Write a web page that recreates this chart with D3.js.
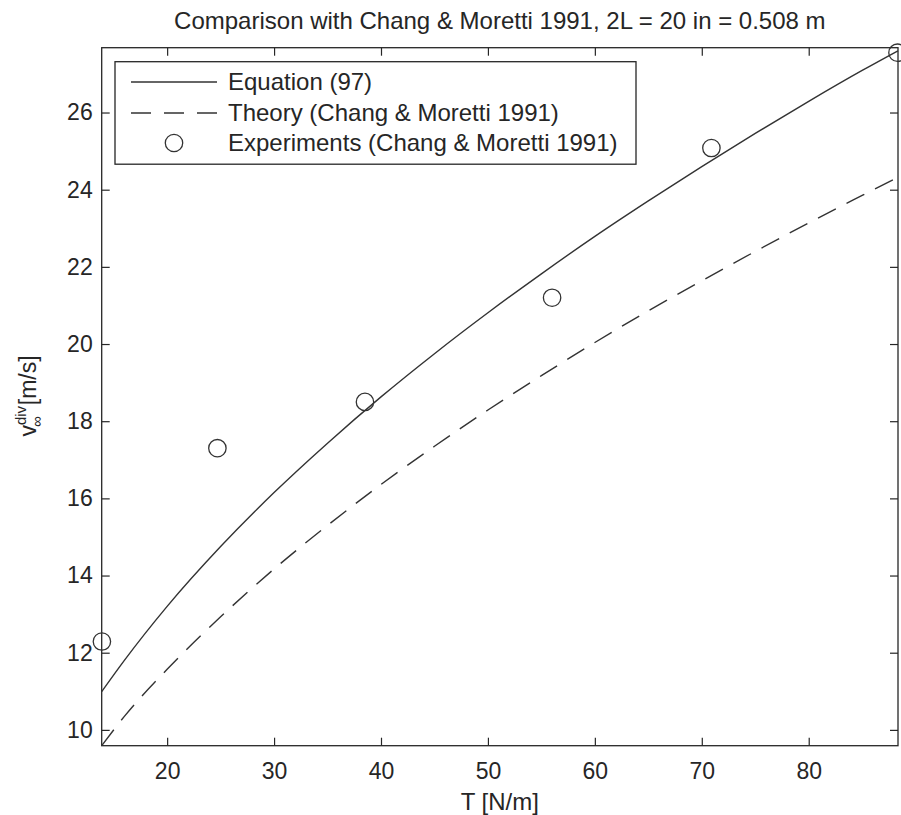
<!DOCTYPE html>
<meta charset="utf-8">
<style>
  body { margin: 0; background: #fff; }
  text { font-family: "Liberation Sans", Arial, sans-serif; fill: #262626; }
</style>
<body>
<svg width="901" height="815"></svg>
</body>
<script src="https://cdn.jsdelivr.net/npm/d3@7"></script>
<script>

// values
var tension = [13.88, 16, 20, 25, 30, 35, 40, 45, 50, 55, 60, 65, 70, 75, 80, 85, 88.35];
var equation97 = [10.99, 11.8, 13.2, 14.75, 16.15, 17.43, 18.63, 19.75, 20.81, 21.82, 22.79, 23.71, 24.6, 25.46, 26.29, 27.09, 27.6];
var theory = [9.59, 10.35, 11.57, 12.93, 14.17, 15.3, 16.36, 17.35, 18.29, 19.18, 20.04, 20.86, 21.64, 22.4, 23.14, 23.85, 24.32];

var expT = [13.9, 24.7, 38.5, 56.0, 70.9, 88.3];
var expV = [12.29, 17.3, 18.5, 21.2, 25.08, 27.55];

var xTicks = [20, 30, 40, 50, 60, 70, 80];
var yTicks = [10, 12, 14, 16, 18, 20, 22, 24, 26];

var legendLabels = ["Equation (97)", "Theory (Chang & Moretti 1991)", "Experiments (Chang & Moretti 1991)"];

var svg = d3.select("svg");
var pLeft = 101.7, pRight = 898, pTop = 47.7, pBottom = 745.7;
var ink = "#262626", lineInk = "#333";

var x = d3.scaleLinear().domain([13.88, 88.35]).range([pLeft, pRight]);
var y = d3.scaleLinear().domain([9.59, 27.68]).range([pBottom, pTop]);

// axes (box on, ticks inward)
function styleAxis(g) {
  g.select(".domain").remove();
  g.selectAll("line").attr("stroke", ink).attr("stroke-width", 1.2);
  g.selectAll("text").style("font-size", "23px").attr("fill", ink);
}

svg.append("g").attr("transform", "translate(0," + pBottom + ")")
  .call(d3.axisBottom(x).tickValues(xTicks).tickSize(-8).tickPadding(17))
  .call(styleAxis);
svg.append("g").attr("transform", "translate(0," + pTop + ")")
  .call(d3.axisTop(x).tickValues(xTicks).tickSize(-8).tickFormat(""))
  .call(styleAxis);
svg.append("g").attr("transform", "translate(" + pLeft + ",0)")
  .call(d3.axisLeft(y).tickValues(yTicks).tickSize(-8).tickPadding(9))
  .call(styleAxis);
svg.append("g").attr("transform", "translate(" + pRight + ",0)")
  .call(d3.axisRight(y).tickValues(yTicks).tickSize(-8).tickFormat(""))
  .call(styleAxis);

svg.append("rect")
  .attr("x", pLeft).attr("y", pTop)
  .attr("width", pRight - pLeft).attr("height", pBottom - pTop)
  .attr("fill", "none").attr("stroke", ink).attr("stroke-width", 1.3);

// curves
var line = d3.line()
  .x(function(d) { return x(d[0]); })
  .y(function(d) { return y(d[1]); })
  .curve(d3.curveMonotoneX);

svg.append("path")
  .datum(d3.zip(tension, equation97))
  .attr("d", line)
  .attr("fill", "none").attr("stroke", lineInk).attr("stroke-width", 1.4);

svg.append("path")
  .datum(d3.zip(tension, theory))
  .attr("d", line)
  .attr("fill", "none").attr("stroke", lineInk).attr("stroke-width", 1.4)
  .attr("stroke-dasharray", "20,12");

svg.selectAll("circle.exp")
  .data(d3.zip(expT, expV))
  .enter().append("circle")
  .attr("class", "exp")
  .attr("cx", function(d) { return x(d[0]); })
  .attr("cy", function(d) { return y(d[1]); })
  .attr("r", 8.7)
  .attr("fill", "none").attr("stroke", lineInk).attr("stroke-width", 1.3);

// title and labels
svg.append("text")
  .attr("x", (pLeft + pRight) / 2).attr("y", 29)
  .attr("text-anchor", "middle")
  .style("font-size", "24px")
  .text("Comparison with Chang & Moretti 1991, 2L = 20 in = 0.508 m");

svg.append("text")
  .attr("x", (pLeft + pRight) / 2).attr("y", 810)
  .attr("text-anchor", "middle")
  .style("font-size", "24px")
  .text("T [N/m]");

var yl = svg.append("text")
  .attr("transform", "translate(36,396) rotate(-90)")
  .attr("text-anchor", "middle")
  .style("font-size", "23px");
yl.append("tspan").text("v");
yl.append("tspan").attr("dy", -10).style("font-size", "15px").text("div");
yl.append("tspan").attr("dx", -21).attr("dy", 16).style("font-size", "15px").text("\u221e");
yl.append("tspan").attr("dx", 11).attr("dy", -6).text("[m/s]");

// legend
var lg = svg.append("g");
lg.append("rect")
  .attr("x", 115).attr("y", 61.7).attr("width", 521).attr("height", 102.5)
  .attr("fill", "#fff").attr("stroke", ink).attr("stroke-width", 1.3);

var rows = [82, 113, 143];
legendLabels.forEach(function(lab, i) {
  if (i < 2) {
    lg.append("line")
      .attr("x1", 131).attr("x2", 217).attr("y1", rows[i]).attr("y2", rows[i])
      .attr("stroke", lineInk).attr("stroke-width", 1.4)
      .attr("stroke-dasharray", i === 1 ? "20,13" : null);
  } else {
    lg.append("circle")
      .attr("cx", 174).attr("cy", rows[i]).attr("r", 8.7)
      .attr("fill", "none").attr("stroke", lineInk).attr("stroke-width", 1.3);
  }
  lg.append("text")
    .attr("x", 228).attr("y", rows[i] + 8)
    .style("font-size", "24px")
    .attr("fill", "#111")
    .text(lab);
});

</script>
